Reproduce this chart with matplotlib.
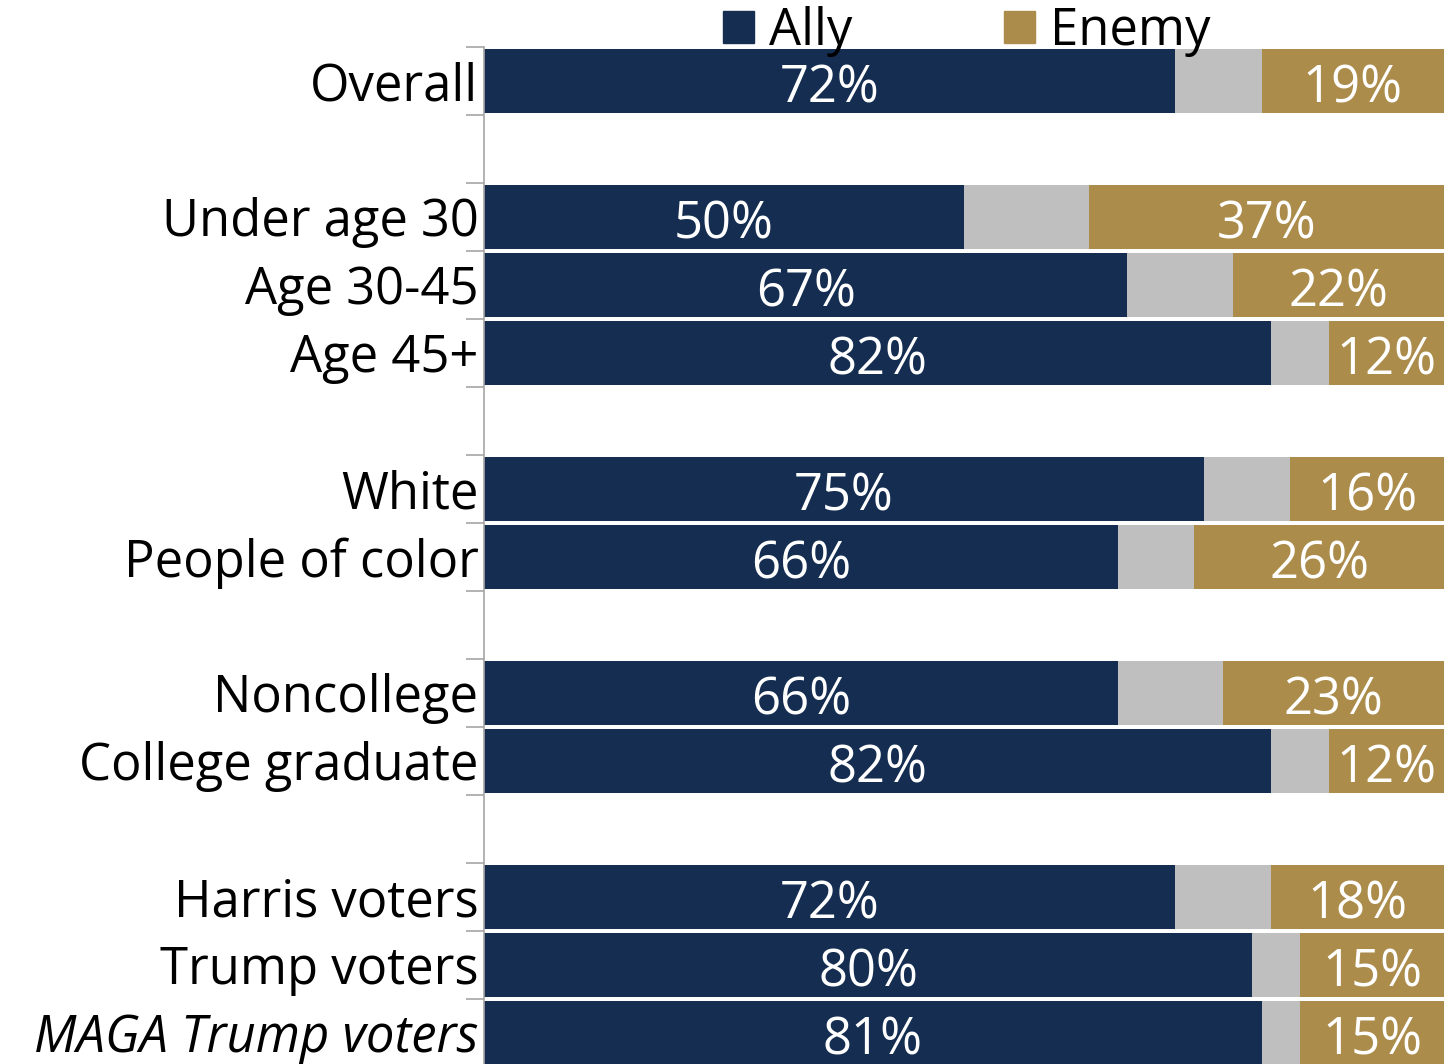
import matplotlib
matplotlib.use("Agg")
import matplotlib.pyplot as plt
from matplotlib.patches import Patch
import numpy as np

plt.rcParams["font.family"] = ["Open Sans", "DejaVu Sans"]

# groups separated by empty rows (None)
categories = ["Overall", None,
              "Under age 30", "Age 30-45", "Age 45+", None,
              "White", "People of color", None,
              "Noncollege", "College graduate", None,
              "Harris voters", "Trump voters", "MAGA Trump voters"]
ally = [72, None, 50, 67, 82, None, 75, 66, None, 66, 82, None, 72, 80, 81]
middle = [9, None, 13, 11, 6, None, 9, 8, None, 11, 6, None, 10, 5, 4]
enemy = [19, None, 37, 22, 12, None, 16, 26, None, 23, 12, None, 18, 15, 15]

navy = "#142D51"
gold = "#AB8C4B"
grey = "#BFBFBF"

fig = plt.figure(figsize=(14.52, 10.64), dpi=100)
ax = fig.add_axes([484 / 1452, -3 / 1064, 960 / 1452, 1020 / 1064])

rows = [i for i, c in enumerate(categories) if c is not None]
a = np.array([ally[i] for i in rows])
m = np.array([middle[i] for i in rows])
e = np.array([enemy[i] for i in rows])

h = 0.955
ax.barh(rows, a, height=h, color=navy, linewidth=0)
ax.barh(rows, m, left=a, height=h, color=grey, linewidth=0)
ax.barh(rows, e, left=a + m, height=h, color=gold, linewidth=0)

# value labels, baseline a bit below bar centre
for y, av, mv, ev in zip(rows, a, m, e):
    ax.text(av / 2, y + 0.31, f"{av}%", color="white", ha="center", va="baseline", fontsize=36.5)
    ax.text(av + mv + ev / 2, y + 0.31, f"{ev}%", color="white", ha="center", va="baseline", fontsize=36.5)

ax.set_xlim(0, 100)
ax.set_ylim(len(categories) - 0.5, -0.5)

ax.set_yticks(rows)
ax.set_yticklabels([categories[i] for i in rows], fontsize=36.5)
ax.tick_params(axis="y", which="major", length=0, pad=4)
ax.set_yticks(np.arange(-0.5, len(categories), 1), minor=True)
ax.tick_params(axis="y", which="minor", length=13, color="#A6A6A6", width=1.2)
ax.get_yticklabels()[-1].set_style("italic")
ax.set_xticks([])

for s in ["top", "right", "bottom"]:
    ax.spines[s].set_visible(False)
ax.spines["left"].set_color("#A6A6A6")
ax.spines["left"].set_linewidth(1.2)

handles = [Patch(color=navy, label="Ally"), Patch(color=gold, label="Enemy")]
fig.legend(handles=handles, loc="upper left", bbox_to_anchor=(698 / 1452, 1.018), ncol=2,
           frameon=False, fontsize=36.5, handlelength=0.6, handleheight=0.6,
           handletextpad=0.3, columnspacing=3.0, borderpad=0)

fig.savefig("out.png", dpi=100)
